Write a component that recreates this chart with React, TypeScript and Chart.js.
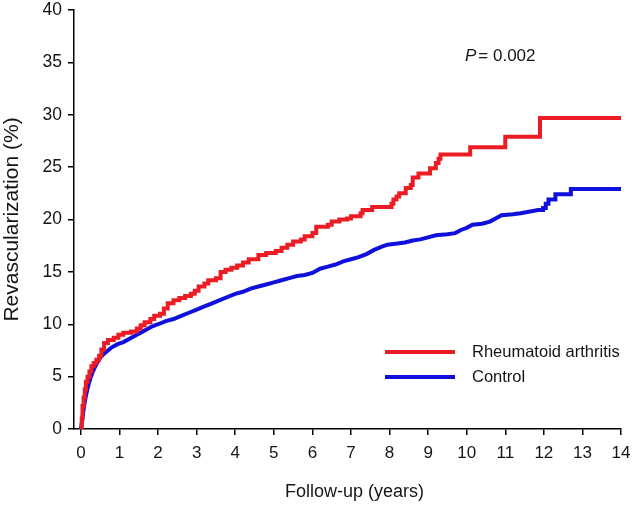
import React, { useEffect, useRef } from 'react';
import { Chart, registerables } from 'chart.js';

Chart.register(...registerables);

// ---------- data ----------
const xTickValues = [0, 1, 2, 3, 4, 5, 6, 7, 8, 9, 10, 11, 12, 13, 14];
const yTickValues = [0, 5, 10, 15, 20, 25, 30, 35, 40];

const seriesLabels = ['Rheumatoid arthritis', 'Control'];
const seriesColors = ['#ec1c24', '#1010dc'];

// Rheumatoid arthritis: Kaplan-Meier step points (time in years, cumulative %)
const raTimes = [
  0, 0.02, 0.04, 0.07, 0.1, 0.13, 0.17, 0.22, 0.27, 0.33, 0.4, 0.47, 0.53, 0.6, 0.7, 0.85, 0.97,
  1.1, 1.3, 1.45, 1.55, 1.65, 1.8, 1.9, 2.05, 2.15, 2.25, 2.4, 2.55, 2.7, 2.85, 2.95, 3.05, 3.2,
  3.3, 3.5, 3.62, 3.75, 3.9, 4.05, 4.2, 4.35, 4.6, 4.8, 5.05, 5.2, 5.35, 5.5, 5.7, 5.8, 6.0, 6.1,
  6.4, 6.5, 6.7, 6.9, 7.0, 7.25, 7.3, 7.55, 8.05, 8.1, 8.18, 8.25, 8.42, 8.55, 8.6, 8.75, 9.05,
  9.2, 9.27, 9.32, 10.09, 11.0, 11.9, 14.0,
];
const raValues = [
  0, 1.0, 2.2, 3.0, 3.8, 4.5, 5.0, 5.5, 6.0, 6.3, 6.6, 7.0, 7.6, 8.2, 8.5, 8.7, 9.0,
  9.2, 9.3, 9.6, 9.9, 10.2, 10.5, 10.8, 11.0, 11.5, 12.0, 12.3, 12.5, 12.7, 12.9, 13.2, 13.6, 13.9,
  14.2, 14.4, 15.0, 15.2, 15.4, 15.6, 15.9, 16.2, 16.6, 16.8, 17.0, 17.3, 17.6, 17.9, 18.1, 18.4, 18.7, 19.3,
  19.5, 19.8, 20.0, 20.1, 20.3, 20.6, 20.9, 21.2, 21.5, 21.9, 22.2, 22.5, 23.0, 23.3, 24.0, 24.4, 24.9,
  25.4, 25.8, 26.2, 26.9, 27.9, 29.7, 29.7,
];

// Control: dense events early (drawn as a near-continuous line), explicit steps late
const ctrlTimes = [
  0, 0.03, 0.06, 0.09, 0.12, 0.16, 0.2, 0.25, 0.3, 0.36, 0.43, 0.5, 0.6, 0.7, 0.8, 0.95, 1.1,
  1.25, 1.4, 1.55, 1.7, 1.85, 2.0, 2.2, 2.4, 2.6, 2.8, 3.0, 3.2, 3.4, 3.6, 3.8, 4.0, 4.2, 4.4,
  4.6, 4.8, 5.0, 5.2, 5.4, 5.6, 5.8, 6.0, 6.2, 6.4, 6.6, 6.8, 7.0, 7.2, 7.4, 7.6, 7.8, 7.95,
  8.2, 8.4, 8.6, 8.8, 9.0, 9.2, 9.5, 9.7, 9.85, 10.0, 10.15, 10.4, 10.6, 10.75, 10.9, 11.2, 11.4,
  11.85, 11.98, 11.98, 12.05, 12.05, 12.12, 12.12, 12.3, 12.3, 12.7, 12.7, 14.0,
];
const ctrlValues = [
  0, 0.8, 1.6, 2.4, 3.0, 3.7, 4.3, 4.9, 5.4, 5.9, 6.4, 6.8, 7.2, 7.5, 7.8, 8.1, 8.3,
  8.6, 8.9, 9.2, 9.5, 9.8, 10.0, 10.3, 10.5, 10.8, 11.1, 11.4, 11.7, 12.0, 12.3, 12.6, 12.9, 13.1, 13.4,
  13.6, 13.8, 14.0, 14.2, 14.4, 14.6, 14.7, 14.9, 15.3, 15.5, 15.7, 16.0, 16.2, 16.4, 16.7, 17.1, 17.4, 17.6,
  17.7, 17.8, 18.0, 18.1, 18.3, 18.5, 18.6, 18.7, 19.0, 19.2, 19.5, 19.6, 19.8, 20.1, 20.4, 20.5, 20.6,
  20.9, 20.9, 21.1, 21.1, 21.5, 21.5, 21.9, 21.9, 22.4, 22.4, 22.9, 22.9,
];

const xTitle = 'Follow-up (years)';
const yTitle = 'Revascularization (%)';
const pLabel = 'P';
const pValueText = '= 0.002';

// ---------- styles ----------
const FONT = '"Liberation Sans", Arial, Helvetica, sans-serif';
const TEXT = '#151515';

const overlayPlugin = {
  id: 'overlay',
  afterDraw(chart: any) {
    const ctx = chart.ctx as CanvasRenderingContext2D;
    const area = chart.chartArea;
    ctx.save();
    ctx.fillStyle = TEXT;
    // x axis title
    ctx.textAlign = 'center';
    ctx.textBaseline = 'middle';
    ctx.font = `18px ${FONT}`;
    ctx.fillText(xTitle, (area.left + area.right) / 2 + 7, 492);
    // P value
    ctx.textBaseline = 'alphabetic';
    ctx.textAlign = 'left';
    ctx.font = `italic 17px ${FONT}`;
    const px = 465;
    const py = 61;
    ctx.fillText(pLabel, px, py);
    const pw = ctx.measureText(pLabel).width;
    ctx.font = `17px ${FONT}`;
    ctx.fillText(pValueText, px + pw + 2, py);
    // legend
    chart.data.datasets.forEach((ds: any, i: number) => {
      const y = 352 + i * 25;
      ctx.strokeStyle = ds.borderColor;
      ctx.lineWidth = 4;
      ctx.beginPath();
      ctx.moveTo(385, y);
      ctx.lineTo(455, y);
      ctx.stroke();
      ctx.textBaseline = 'middle';
      ctx.font = `16.5px ${FONT}`;
      ctx.fillText(ds.label, 472, y);
    });
    ctx.restore();
  },
};

export default function App() {
  const canvasRef = useRef<HTMLCanvasElement>(null);

  useEffect(() => {
    if (!canvasRef.current) return;
    const chart = new Chart(canvasRef.current, {
      type: 'line',
      data: {
        datasets: [
          {
            label: seriesLabels[0],
            data: raTimes.map((t, i) => ({ x: t, y: raValues[i] })),
            borderColor: seriesColors[0],
            borderWidth: 4,
            stepped: true,
            pointRadius: 0,
            fill: false,
          },
          {
            label: seriesLabels[1],
            data: ctrlTimes.map((t, i) => ({ x: t, y: ctrlValues[i] })),
            borderColor: seriesColors[1],
            borderWidth: 4,
            stepped: false,
            tension: 0,
            pointRadius: 0,
            fill: false,
          },
        ],
      },
      options: {
        animation: false,
        responsive: false,
        maintainAspectRatio: false,
        layout: { padding: { top: 10, right: 12, left: 0, bottom: 0 } },
        plugins: { legend: { display: false }, tooltip: { enabled: false } },
        scales: {
          x: {
            type: 'linear',
            min: -0.18,
            max: 14,
            afterBuildTicks: (s: any) => {
              s.ticks = xTickValues.map((v) => ({ value: v }));
            },
            afterFit: (s: any) => {
              s.height = 76;
              s.paddingLeft = 0;
              s.paddingRight = 0;
            },
            border: { display: true, color: '#000', width: 1.5 },
            grid: {
              display: true,
              drawOnChartArea: false,
              drawTicks: true,
              tickLength: 6,
              color: '#000',
              lineWidth: 1.5,
            },
            ticks: {
              color: TEXT,
              font: { family: FONT, size: 17 },
              padding: 8,
              maxRotation: 0,
              autoSkip: false,
            },
            title: { display: false },
          },
          y: {
            type: 'linear',
            min: 0,
            max: 40,
            afterBuildTicks: (s: any) => {
              s.ticks = yTickValues.map((v) => ({ value: v }));
            },
            afterFit: (s: any) => {
              s.width = 74;
              s.paddingTop = 0;
              s.paddingBottom = 0;
            },
            border: { display: true, color: '#000', width: 1.5 },
            grid: {
              display: true,
              drawOnChartArea: false,
              drawTicks: true,
              tickLength: 6,
              color: '#000',
              lineWidth: 1.5,
            },
            ticks: {
              color: TEXT,
              font: { family: FONT, size: 17.5 },
              padding: 6,
              autoSkip: false,
            },
            title: {
              display: true,
              text: yTitle,
              color: TEXT,
              font: { family: FONT, size: 21 },
              padding: { top: 0, bottom: 0 },
            },
          },
        },
      },
      plugins: [overlayPlugin],
    } as any);
    return () => chart.destroy();
  }, []);

  return (
    <div style={{ position: 'absolute', left: 0, top: 0, width: 633, height: 505, background: '#fff' }}>
      <canvas ref={canvasRef} width={633} height={505} style={{ display: 'block', width: 633, height: 505 }} />
    </div>
  );
}
